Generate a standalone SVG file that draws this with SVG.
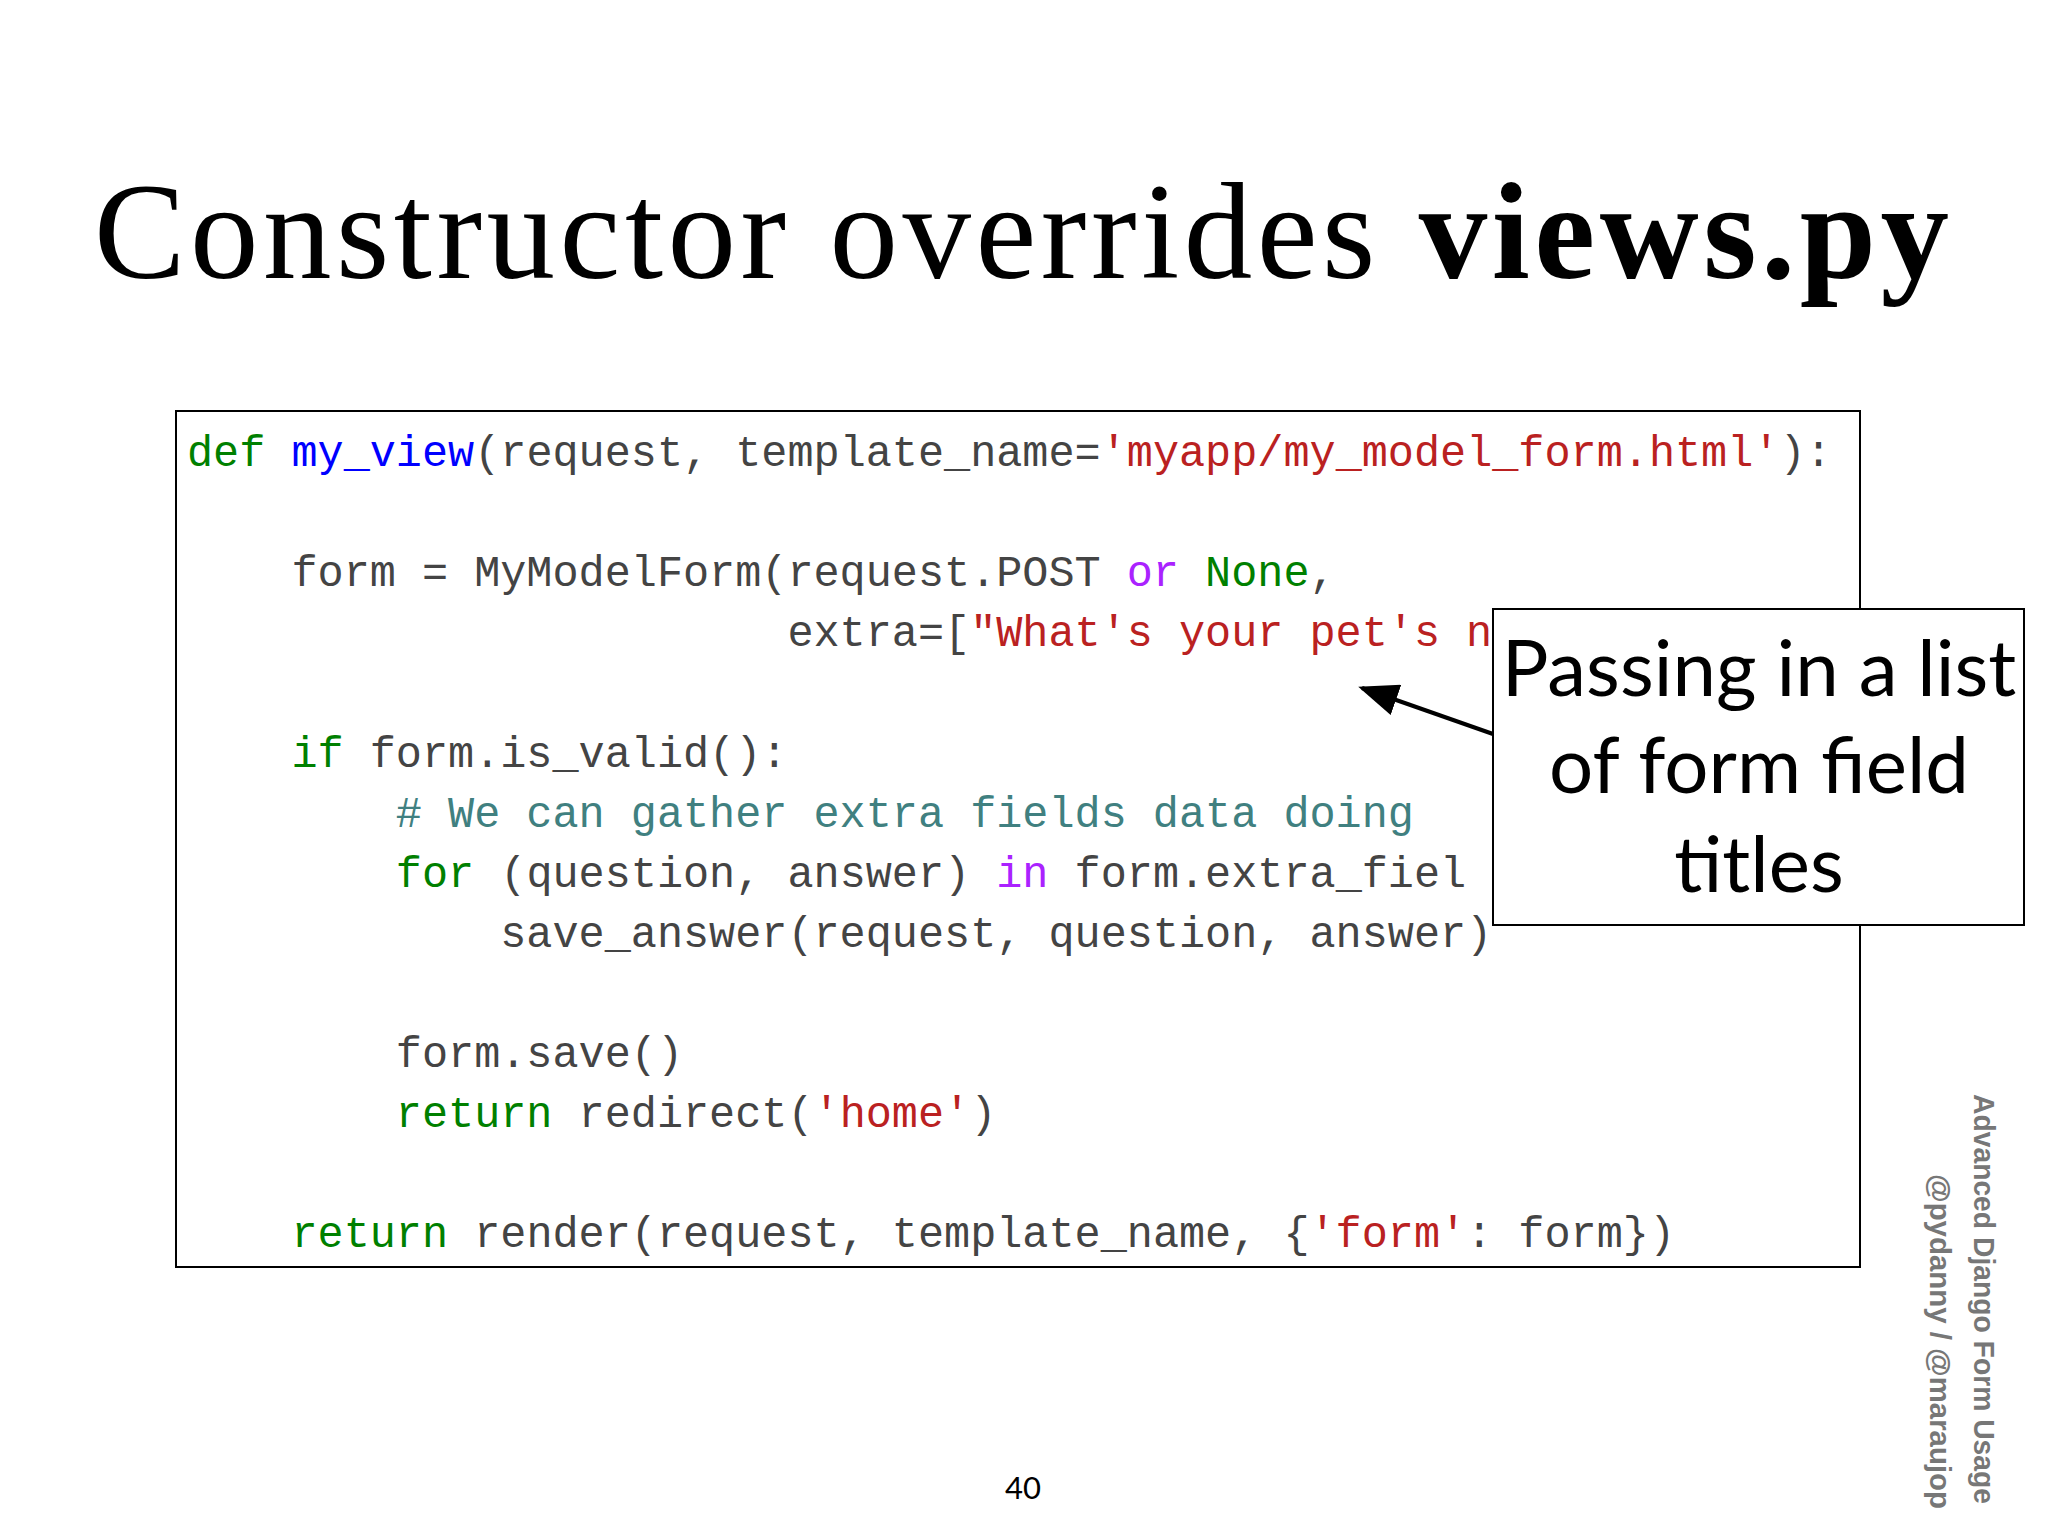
<svg xmlns="http://www.w3.org/2000/svg" width="2048" height="1536" viewBox="0 0 2048 1536">
<style>
.c{font-family:"Liberation Mono",monospace;font-size:43.5px;fill:#444;white-space:pre}
.k{fill:#008000}.f{fill:#0000ff}.s{fill:#ba2121}.p{fill:#aa22ff}.m{fill:#408080}
.call{font-family:Lato,"Open Sans",sans-serif;font-size:78px;fill:#000;text-anchor:middle}
.side{font-family:"Liberation Sans",sans-serif;font-weight:bold;font-size:30px;fill:#777}
</style>
<defs><marker id="ah" markerWidth="10" markerHeight="8" refX="9" refY="4" orient="auto" markerUnits="strokeWidth"><path d="M0,0 L10,4 L0,8 z" fill="#000"/></marker></defs>
<rect width="2048" height="1536" fill="#fff"/>
<text x="94" y="278" font-family="Liberation Serif,serif" font-size="137" textLength="1855" lengthAdjust="spacing">Constructor overrides <tspan font-weight="bold">views.py</tspan></text>
<g id="code">
<rect x="176" y="411" width="1684" height="856" fill="#fff" stroke="#000" stroke-width="2"/>
<text class="c" x="187" y="466" xml:space="preserve"><tspan class="k">def</tspan> <tspan class="f">my_view</tspan>(request, template_name=<tspan class="s">'myapp/my_model_form.html'</tspan>):</text>
<text class="c" x="187" y="586" xml:space="preserve">    form = MyModelForm(request.POST <tspan class="p">or</tspan> <tspan class="k">None</tspan>,</text>
<text class="c" x="187" y="646" xml:space="preserve">                       extra=[<tspan class="s">"What's your pet's n</tspan></text>
<text class="c" x="187" y="767" xml:space="preserve">    <tspan class="k">if</tspan> form.is_valid():</text>
<text class="c" x="187" y="827" xml:space="preserve">        <tspan class="m"># We can gather extra fields data doing</tspan></text>
<text class="c" x="187" y="887" xml:space="preserve">        <tspan class="k">for</tspan> (question, answer) <tspan class="p">in</tspan> form.extra_fiel</text>
<text class="c" x="187" y="947" xml:space="preserve">            save_answer(request, question, answer)</text>
<text class="c" x="187" y="1067" xml:space="preserve">        form.save()</text>
<text class="c" x="187" y="1127" xml:space="preserve">        <tspan class="k">return</tspan> redirect(<tspan class="s">'home'</tspan>)</text>
<text class="c" x="187" y="1247" xml:space="preserve">    <tspan class="k">return</tspan> render(request, template_name, {<tspan class="s">'form'</tspan>: form})</text>
</g>
<g id="connectors"><line x1="1493" y1="734" x2="1362" y2="688" stroke="#000" stroke-width="4" marker-end="url(#ah)"/></g>
<g id="callout">
<rect x="1493" y="609" width="531" height="316" fill="#fff" stroke="#000" stroke-width="2"/>
<text class="call" x="1759" y="696">Passing in a list</text>
<text class="call" x="1759" y="793">of form field</text>
<text class="call" x="1759" y="892">titles</text>
</g>
<text class="side" transform="translate(1974,1094) rotate(90)" textLength="410" lengthAdjust="spacingAndGlyphs">Advanced Django Form Usage</text>
<text class="side" transform="translate(1930,1174) rotate(90)" textLength="335" lengthAdjust="spacingAndGlyphs">@pydanny / @maraujop</text>
<text x="1023" y="1499" font-family="Lato,sans-serif" font-size="31" text-anchor="middle">40</text>
</svg>
